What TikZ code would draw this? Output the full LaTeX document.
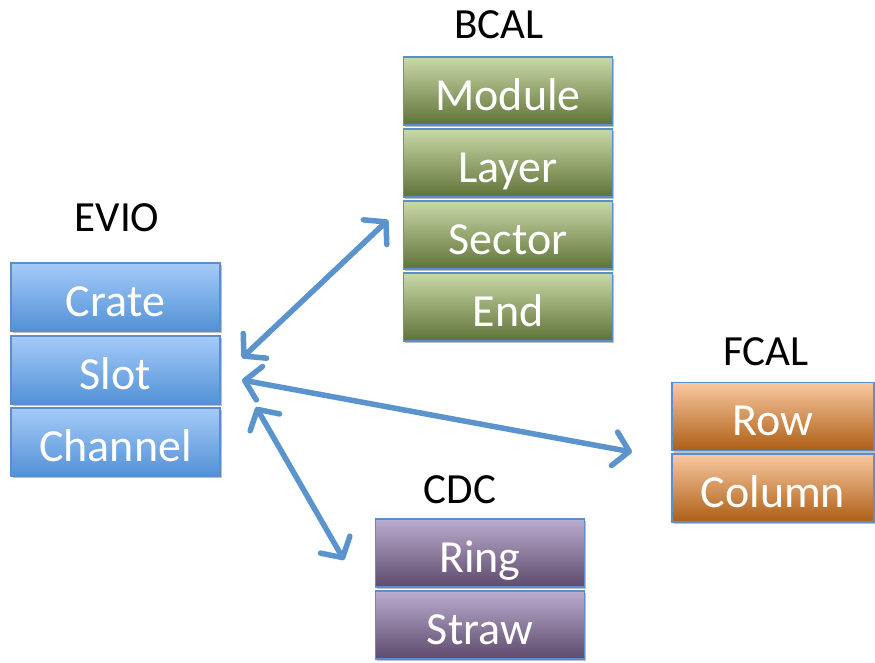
\documentclass[tikz,border=0pt]{standalone}
\usepackage{fontspec}
\setmainfont{Carlito}
\usetikzlibrary{arrows.meta,shadows}
\definecolor{edgeblue}{HTML}{5B8FCB}
\definecolor{arrowblue}{HTML}{5B94CD}
\definecolor{bluetop}{HTML}{A5CBF9}
\definecolor{bluebot}{HTML}{5291D6}
\definecolor{greentop}{HTML}{CAD8A8}
\definecolor{greenbot}{HTML}{5F7337}
\definecolor{orangetop}{HTML}{F9C9A1}
\definecolor{orangebot}{HTML}{AD5E14}
\definecolor{purpletop}{HTML}{BBACCF}
\definecolor{purplebot}{HTML}{5D4A6C}
\tikzset{
  cell/.style={rectangle, draw=edgeblue, line width=1.5pt, inner sep=0pt,
    minimum width=209pt, minimum height=68pt, text=white,
    font=\fontsize{46}{46}\selectfont, text height=38pt, text depth=0pt,
    drop shadow={shadow xshift=1.5pt, shadow yshift=-2pt, opacity=0.25, fill=black}},
  bluecell/.style={cell, top color=bluetop, bottom color=bluebot},
  greencell/.style={cell, top color=greentop, bottom color=greenbot},
  orangecell/.style={cell, top color=orangetop, bottom color=orangebot},
  purplecell/.style={cell, top color=purpletop, bottom color=purplebot},
  title/.style={font=\fontsize{43}{43}\selectfont, text=black},
  link/.style={draw=arrowblue, line width=5.5pt, line cap=round,
    {Straight Barb[length=15pt,width=34pt,round]}-{Straight Barb[length=15pt,width=34pt,round]}}
}
\begin{document}
\begin{tikzpicture}[x=1pt,y=-1pt]
\useasboundingbox (0,0) rectangle (875,662);

% EVIO
\node[title] (evio) at (117,218) {EVIO};
\node[bluecell] (crate) at (115.5,297) {Crate};
\node[bluecell] (slot) at (115.5,370) {Slot};
\node[bluecell] (channel) at (115.5,442) {Channel};

% BCAL
\node[title] (bcal) at (499,25) {BCAL};
\node[greencell] (module) at (508,91) {Module};
\node[greencell] (layer) at (508,163) {Layer};
\node[greencell] (sector) at (508,235) {Sector};
\node[greencell] (end) at (508,307) {End};

% FCAL
\node[title] (fcal) at (766,352) {FCAL};
\node[orangecell, minimum width=202pt] (row) at (773,416.5) {Row};
\node[orangecell, minimum width=202pt] (column) at (773,488) {Column};

% CDC
\node[title] (cdc) at (460,490) {CDC};
\node[purplecell] (ring) at (480,553) {Ring};
\node[purplecell] (straw) at (480,625) {Straw};

% arrow ends
\coordinate (e1) at (242,358);
\coordinate (b1) at (388,220);
\coordinate (e2) at (242,380);
\coordinate (f1) at (632,452);
\coordinate (e3) at (256,407);
\coordinate (c1) at (344,560);

\draw[link] (e1) -- (b1);
\draw[link] (e2) -- (f1);
\draw[link] (e3) -- (c1);
\end{tikzpicture}
\end{document}
